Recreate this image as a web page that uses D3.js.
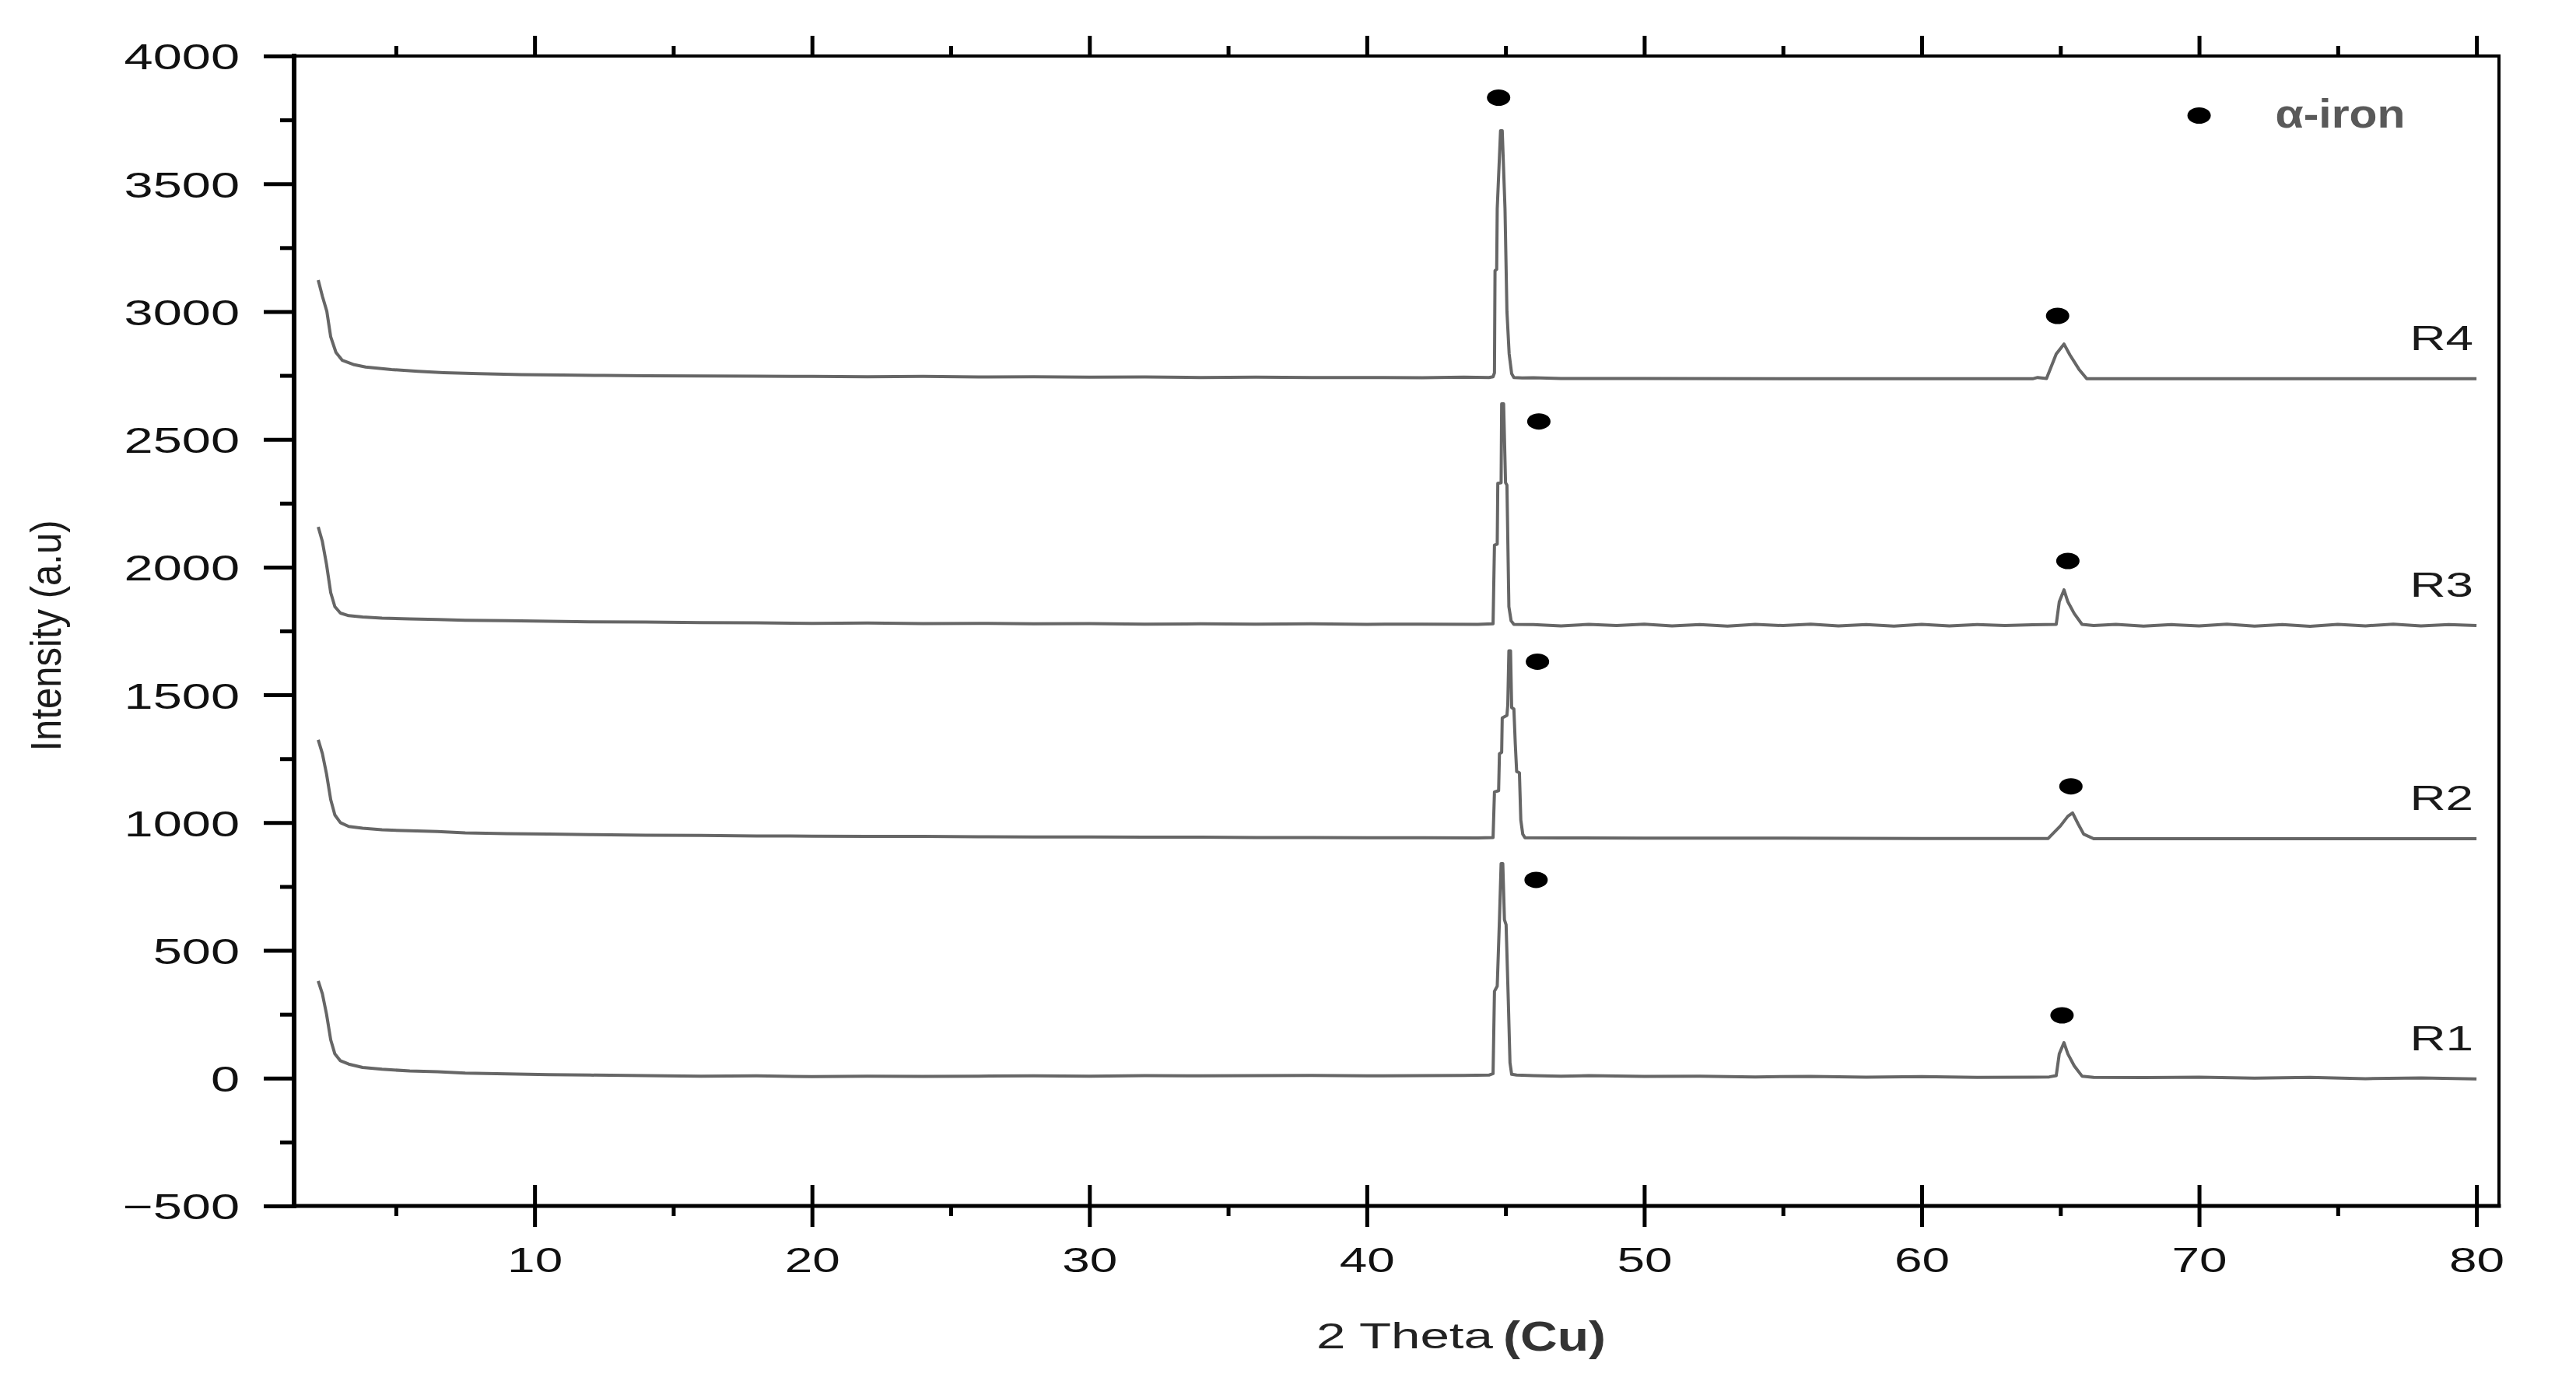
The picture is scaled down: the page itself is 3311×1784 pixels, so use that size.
<!doctype html>
<html lang="en">
<head>
<meta charset="utf-8">
<title>XRD patterns R1-R4</title>
<script src="https://d3js.org/d3.v7.min.js"></script>
<style>
  html, body { margin: 0; padding: 0; background: #fff; }
  svg { display: block; font-family: "Liberation Sans", Arial, sans-serif; }
</style>
</head>
<body>
<svg id="chart" width="3311" height="1784"></svg>
<script>
// ---- data (2 theta, intensity) ----
const sampleNames = ["R1", "R2", "R3", "R4"];

const r1 = [[2.2,380],[2.35,330],[2.5,250],[2.65,150],[2.8,95],[3.0,68],[3.3,55],[3.8,42],[4.5,35],[5.5,28],[6.5,25],[7.5,20],[9,17],[10.5,14],[12,12],[14,10],[16,8],[18,9],[20,6],[22,8],[24,7],[26,8],[28,9],[30,8],[32,10],[34,9],[36,10],[38,11],[40,9],[42,10],[43.5,11],[44.4,12],[44.55,18],[44.6,340],[44.7,360],[44.78,620],[44.84,840],[44.9,840],[44.96,620],[45.02,600],[45.1,300],[45.16,60],[45.22,15],[45.4,12],[46,10],[47,8],[48,10],[50,7],[52,8],[54,5],[56,7],[58,4],[60,6],[62,3],[64,4],[64.6,5],[64.85,10],[64.96,95],[65.13,139],[65.27,95],[65.5,48],[65.78,8],[66.2,3],[68,2],[70,4],[72,0],[74,3],[76,-2],[78,1],[80,-3]];

const r2 = [[2.2,1324],[2.35,1270],[2.5,1190],[2.65,1090],[2.8,1030],[3.0,1000],[3.3,985],[3.8,978],[4.5,972],[5.5,968],[6.5,965],[7.5,960],[9,957],[10.5,955],[12,953],[14,951],[16,950],[18,948],[20,947],[22,946],[24,946],[26,945],[28,944],[30,944],[32,943],[34,943],[36,942],[38,942],[40,941],[42,941],[44,940],[44.55,942],[44.6,1120],[44.75,1125],[44.78,1270],[44.86,1275],[44.88,1410],[45.05,1420],[45.08,1460],[45.12,1672],[45.18,1672],[45.22,1450],[45.3,1445],[45.35,1310],[45.4,1200],[45.5,1195],[45.55,1010],[45.62,955],[45.7,941],[47,940],[50,939],[55,939],[60,938],[64,938],[64.56,938],[65.0,987],[65.27,1025],[65.44,1038],[65.64,995],[65.84,955],[66.2,937],[70,937],[75,937],[80,937]];

const r3 = [[2.2,2157],[2.35,2100],[2.5,2010],[2.65,1900],[2.8,1845],[3.0,1820],[3.3,1810],[3.8,1805],[4.5,1800],[5.5,1797],[6.5,1795],[7.5,1792],[9,1790],[10.5,1788],[12,1786],[14,1785],[16,1783],[18,1782],[20,1780],[22,1781],[24,1779],[26,1780],[28,1778],[30,1779],[32,1777],[34,1778],[36,1777],[38,1778],[40,1776],[42,1777],[44,1776],[44.55,1778],[44.6,2086],[44.7,2090],[44.72,2328],[44.84,2330],[44.86,2639],[44.93,2639],[45.0,2330],[45.05,2321],[45.12,1845],[45.2,1790],[45.3,1776],[46,1775],[47,1770],[48,1776],[49,1771],[50,1777],[51,1770],[52,1775],[53,1769],[54,1776],[55,1771],[56,1777],[57,1770],[58,1775],[59,1769],[60,1776],[61,1770],[62,1775],[63,1771],[64,1774],[64.85,1776],[64.96,1864],[65.13,1911],[65.27,1864],[65.5,1818],[65.78,1776],[66.2,1771],[67,1776],[68,1769],[69,1775],[70,1770],[71,1777],[72,1769],[73,1775],[74,1768],[75,1776],[76,1770],[77,1777],[78,1770],[79,1775],[80,1771]];

const r4 = [[2.2,3123],[2.35,3060],[2.51,3001],[2.65,2901],[2.84,2840],[3.07,2809],[3.5,2792],[3.91,2783],[4.84,2773],[5.8,2766],[6.72,2761],[8,2757],[9.5,2753],[11,2752],[12.5,2750],[14,2749],[16,2748],[18,2747],[20,2746],[22,2745],[24,2746],[26,2744],[28,2745],[30,2743],[32,2744],[34,2742],[36,2743],[38,2742],[40,2742],[42,2741],[43.5,2743],[44.4,2742],[44.55,2745],[44.6,2760],[44.62,3160],[44.68,3165],[44.7,3403],[44.82,3708],[44.88,3708],[44.98,3403],[45.05,3000],[45.13,2834],[45.22,2757],[45.3,2742],[45.6,2740],[46,2741],[47,2738],[50,2738],[55,2737],[60,2737],[64,2737],[64.18,2742],[64.5,2738],[64.85,2834],[65.13,2873],[65.34,2831],[65.67,2774],[65.95,2737],[70,2737],[75,2737],[80,2737]];

// alpha-iron peak markers (2 theta, intensity)
const markers110 = [[46.1,776],[46.15,1630],[46.2,2570],[44.75,3837]];
const markers200 = [[65.06,246],[65.38,1142],[65.27,2024],[64.9,2983]];
const legendMarker = [70, 3767];
const legendText = "\u03b1-iron";

const xMajorTicks = [10, 20, 30, 40, 50, 60, 70, 80];
const xMinorTicks = [5, 15, 25, 35, 45, 55, 65, 75];
const yMajorTicks = [-500, 0, 500, 1000, 1500, 2000, 2500, 3000, 3500, 4000];
const yMinorTicks = [-250, 250, 750, 1250, 1750, 2250, 2750, 3250, 3750];

const xTitle = "2 Theta";
const xTitleUnit = "(Cu)";
const yTitle = "Intensity (a.u)";

// ---- layout ----
const svg = d3.select("#chart");
const L = 378, R = 3212, T = 72, B = 1550;
const x = d3.scaleLinear().domain([1.33, 80.81]).range([L, R]);
const y = d3.scaleLinear().domain([-500, 4000]).range([B, T]);
const stretch = 1.42; // tick text in the picture is widened

const series = [r1, r2, r3, r4];
const line = d3.line().x(d => x(d[0])).y(d => y(d[1]));

svg.append("g").selectAll("path")
  .data(series)
  .join("path")
  .attr("d", line)
  .attr("fill", "none")
  .attr("stroke", "#666")
  .attr("stroke-width", 4)
  .attr("stroke-linejoin", "round");

// peak markers
svg.append("g").selectAll("ellipse")
  .data(markers110.concat(markers200, [legendMarker]))
  .join("ellipse")
  .attr("cx", d => x(d[0]))
  .attr("cy", d => y(d[1]))
  .attr("rx", 15)
  .attr("ry", 10.5)
  .attr("fill", "#000");

svg.append("text")
  .attr("x", x(legendMarker[0]) + 98)
  .attr("y", y(legendMarker[1]) + 15)
  .attr("font-size", 52)
  .attr("font-weight", "bold")
  .attr("fill", "#595959")
  .attr("textLength", 167)
  .attr("lengthAdjust", "spacingAndGlyphs")
  .text(legendText);

// sample labels above the right end of each trace
svg.append("g").selectAll("text")
  .data(series)
  .join("text")
  .attr("transform", d => `translate(${x(80) - 4},${y(d[d.length - 1][1]) - 37}) scale(${stretch},1)`)
  .attr("text-anchor", "end")
  .attr("font-size", 45)
  .attr("fill", "#1a1a1a")
  .text((d, i) => sampleNames[i]);

// ---- axes ----
const axisColor = "#000";
const fmt = d3.format("d");
function style(g) {
  g.select(".domain").remove();
  g.selectAll("line").attr("stroke", axisColor).attr("stroke-width", 5);
}

// left
svg.append("g").attr("transform", `translate(${L},0)`)
  .call(d3.axisLeft(y).tickValues(yMajorTicks).tickFormat(fmt).tickSize(39).tickPadding(31))
  .call(style)
  .call(g => g.selectAll("text")
    .attr("x", -70 / stretch)
    .attr("dy", "0.36em")
    .attr("transform", `scale(${stretch},1)`)
    .attr("font-size", 47)
    .attr("font-family", "'Liberation Sans', Arial, sans-serif")
    .attr("fill", "#111"));
svg.append("g").attr("transform", `translate(${L},0)`)
  .call(d3.axisLeft(y).tickValues(yMinorTicks).tickSize(18).tickFormat(""))
  .call(style);

// bottom (major ticks cross the axis)
svg.append("g").attr("transform", `translate(0,${B})`)
  .call(d3.axisBottom(x).tickValues(xMajorTicks).tickFormat(fmt).tickSize(27))
  .call(style)
  .call(g => g.selectAll("text")
    .attr("y", 85)
    .attr("dy", 0)
    .attr("x", 0)
    .attr("transform", `scale(${stretch},1)`)
    .attr("font-size", 45)
    .attr("font-family", "'Liberation Sans', Arial, sans-serif")
    .attr("fill", "#111"));
svg.append("g").attr("transform", `translate(0,${B})`)
  .call(d3.axisTop(x).tickValues(xMajorTicks).tickSize(27).tickFormat(""))
  .call(style);
svg.append("g").attr("transform", `translate(0,${B})`)
  .call(d3.axisBottom(x).tickValues(xMinorTicks).tickSize(13).tickFormat(""))
  .call(style);

// top (outward ticks, no labels)
svg.append("g").attr("transform", `translate(0,${T})`)
  .call(d3.axisTop(x).tickValues(xMajorTicks).tickSize(26).tickFormat(""))
  .call(style);
svg.append("g").attr("transform", `translate(0,${T})`)
  .call(d3.axisTop(x).tickValues(xMinorTicks).tickSize(13).tickFormat(""))
  .call(style);

// frame
const frame = svg.append("g").attr("stroke", axisColor).attr("stroke-linecap", "square");
frame.append("line").attr("x1", L).attr("x2", L).attr("y1", T).attr("y2", B).attr("stroke-width", 6);
frame.append("line").attr("x1", L).attr("x2", R).attr("y1", B).attr("y2", B).attr("stroke-width", 5);
frame.append("line").attr("x1", L).attr("x2", R).attr("y1", T).attr("y2", T).attr("stroke-width", 4);
frame.append("line").attr("x1", R).attr("x2", R).attr("y1", T).attr("y2", B).attr("stroke-width", 4);

// axis titles
const xt = svg.append("g");
xt.append("text")
  .attr("x", 1692).attr("y", 1733)
  .attr("font-size", 46)
  .attr("fill", "#222")
  .attr("textLength", 227)
  .attr("lengthAdjust", "spacingAndGlyphs")
  .text(xTitle);
xt.append("text")
  .attr("x", 1932).attr("y", 1736)
  .attr("font-size", 54)
  .attr("font-weight", "bold")
  .attr("fill", "#333")
  .attr("textLength", 132)
  .attr("lengthAdjust", "spacingAndGlyphs")
  .text(xTitleUnit);

svg.append("text")
  .attr("transform", "translate(78,817) rotate(-90)")
  .attr("text-anchor", "middle")
  .attr("font-size", 56)
  .attr("fill", "#1a1a1a")
  .attr("textLength", 297)
  .attr("lengthAdjust", "spacingAndGlyphs")
  .text(yTitle);
</script>
</body>
</html>
